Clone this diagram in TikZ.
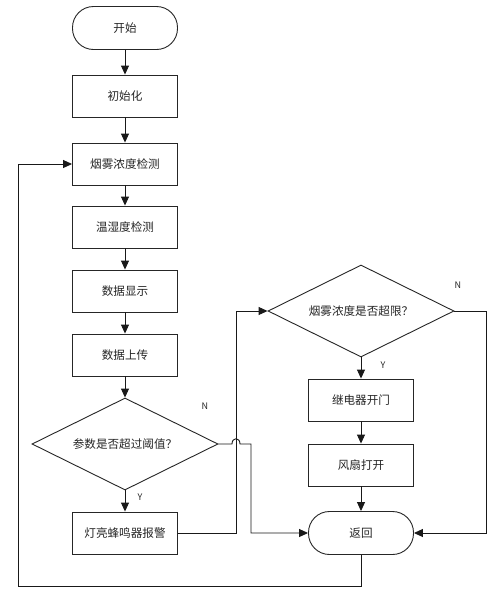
\documentclass[tikz,border=0pt]{standalone}
\usepackage{fontspec}
\setmainfont{Noto Sans CJK SC}
\usetikzlibrary{shapes.geometric,arrows.meta}
\begin{document}
\begin{tikzpicture}[x=1pt,y=-1pt,
  font=\fontsize{11.6}{13}\selectfont,
  every node/.style={text=black!85},
  box/.style={draw=black!85,line width=0.9pt,rectangle,minimum width=105pt,minimum height=42pt,inner sep=0pt},
  term/.style={draw=black!85,line width=0.9pt,rectangle,rounded corners=21pt,minimum width=105pt,minimum height=43pt,inner sep=0pt},
  dec/.style={draw=black!85,line width=0.9pt,diamond,aspect=2,minimum width=186pt,minimum height=92pt,inner sep=0pt},
  flow/.style={draw=black!90,line width=0.9pt,-{Triangle[length=9pt,width=8pt]}},
  lbl/.style={font=\fontsize{9}{10}\selectfont}]
\useasboundingbox (0,0) rectangle (500,603);
\fill[white] (0,0) rectangle (500,603);
\node[term] (s) at (125,28) {开始};
\node[box] (init) at (125,96) {初始化};
\node[box] (smoke) at (125,164) {烟雾浓度检测};
\node[box] (th) at (125,227) {温湿度检测};
\node[box] (disp) at (125,291) {数据显示};
\node[box] (up) at (125,355) {数据上传};
\node[dec] (d1) at (125,444) {参数是否超过阈值？};
\node[box] (alarm) at (125,533) {灯亮蜂鸣器报警};
\node[dec] (d2) at (361,311) {烟雾浓度是否超限？};
\node[box] (relay) at (361,400) {继电器开门};
\node[box] (fan) at (361,465) {风扇打开};
\node[term] (ret) at (361,533) {返回};
\node[lbl] (y1) at (140,497) {Y};
\node[lbl] (n1) at (205,406) {N};
\node[lbl] (y2) at (383,365) {Y};
\node[lbl] (n2) at (458,285) {N};
\draw[flow] (s) -- (init);
\draw[flow] (init) -- (smoke);
\draw[flow] (smoke) -- (th);
\draw[flow] (th) -- (disp);
\draw[flow] (disp) -- (up);
\draw[flow] (up) -- (d1);
\draw[flow] (d1) -- (alarm);
\draw[flow] (d2) -- (relay);
\draw[flow] (relay) -- (fan);
\draw[flow] (fan) -- (ret);
\coordinate (a1) at (236,533);
\coordinate (a2) at (236,311);
\draw[flow] (alarm.east) -- (a1) -- (a2) -- (d2.west);
\coordinate (h1) at (232,444);
\coordinate (h2) at (240,444);
\coordinate (b1) at (251,444);
\coordinate (b2) at (251,533);
\draw[flow] (d1.east) -- (h1) .. controls (232,437) and (240,437) .. (h2) -- (b1) -- (b2) -- (ret.west);
\coordinate (c1) at (486,311);
\coordinate (c2) at (486,533);
\draw[flow] (d2.east) -- (c1) -- (c2) -- (ret.east);
\coordinate (r1) at (361,586);
\coordinate (r2) at (18,586);
\coordinate (r3) at (18,164);
\draw[flow] (ret.south) -- (r1) -- (r2) -- (r3) -- (smoke.west);
\end{tikzpicture}
\end{document}
